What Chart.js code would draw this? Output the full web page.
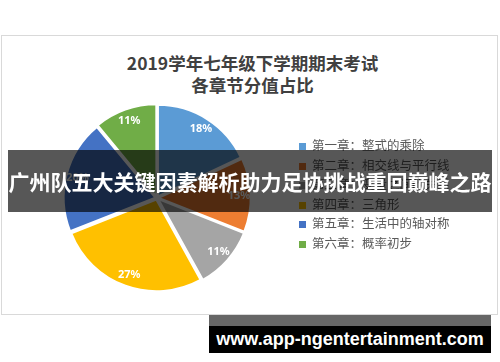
<!DOCTYPE html>
<html>
<head>
<meta charset="utf-8">
<script src="https://cdn.jsdelivr.net/npm/chart.js@4.4.0/dist/chart.umd.min.js"></script>
<style>
  html, body { margin: 0; padding: 0; background: #fff; }
  body { width: 500px; height: 362px; position: relative; overflow: hidden; font-family: "Noto Sans CJK SC", "Noto Sans", sans-serif; }
  #panel { position: absolute; left: 1px; top: 35px; width: 495px; height: 278px; border: 1px solid #d9d9d9; background: #fff; }
  #title { position: absolute; left: 0; top: 52px; width: 505px; text-align: center; font-weight: bold; font-size: 17.5px; line-height: 22px; color: #404040; }
  #chart { position: absolute; left: 0; top: 0; }
  #legend { position: absolute; left: 299px; top: 135px; font-size: 12.5px; color: #595959; }
  .item { height: 19.6px; line-height: 19.6px; white-space: nowrap; }
  .box { display: inline-block; width: 7px; height: 7px; margin-right: 6px; vertical-align: 0px; }
  #banner { position: absolute; left: 8px; top: 150px; width: 484px; height: 62px; background: rgba(0,0,0,0.66); color: #fff; font-weight: bold; font-size: 21px; line-height: 62px; text-align: center; white-space: nowrap; }
  #site-bar { position: absolute; left: 209px; top: 315px; width: 282px; height: 11px; background: #666; }
  #site { position: absolute; left: 209px; top: 326px; width: 282px; height: 27px; background: #000; color: #fff; font-family: "Liberation Sans", sans-serif; font-weight: bold; font-size: 18px; line-height: 27px; text-align: center; white-space: nowrap; }
</style>
</head>
<body>
<div id="panel"></div>
<div id="title">2019学年七年级下学期期末考试<br>各章节分值占比</div>
<canvas id="chart" width="500" height="362"></canvas>
<div id="legend"></div>
<div id="banner">广州队五大关键因素解析助力足协挑战重回巅峰之路</div>
<div id="site-bar"></div>
<div id="site">www.app-ngentertainment.com</div>
<script>
// chapters and their share of the exam score (%)
const chapters = ['第一章：整式的乘除', '第二章：相交线与平行线', '第三章：变量之间的关系', '第四章：三角形', '第五章：生活中的轴对称', '第六章：概率初步'];
const shares = [18, 13, 11, 27, 20, 11];
const colors = ['#5B9BD5', '#ED7D31', '#A5A5A5', '#FFC000', '#4472C4', '#70AD47'];

// legend as html
const legend = document.getElementById('legend');
chapters.forEach((name, i) => {
  const row = document.createElement('div');
  row.className = 'item';
  row.innerHTML = '<span class="box" style="background:' + colors[i] + '"></span>' + name;
  legend.appendChild(row);
});

// percent labels inside slices
const percentLabels = {
  id: 'percentLabels',
  afterDatasetsDraw(chart) {
    const ctx = chart.ctx;
    const meta = chart.getDatasetMeta(0);
    const data = chart.data.datasets[0].data;
    const total = data.reduce((a, b) => a + b, 0);
    ctx.save();
    ctx.fillStyle = '#fff';
    ctx.font = 'bold 11px "Noto Sans", sans-serif';
    ctx.textAlign = 'center';
    ctx.textBaseline = 'middle';
    meta.data.forEach((arc, i) => {
      const p = arc.getProps(['x', 'y', 'startAngle', 'endAngle', 'outerRadius'], true);
      const mid = (p.startAngle + p.endAngle) / 2;
      const r = p.outerRadius * 0.82 + 7;
      ctx.fillText(Math.round(data[i] / total * 100) + '%', p.x + Math.cos(mid) * r, p.y + Math.sin(mid) * r);
    });
    ctx.restore();
  }
};

new Chart(document.getElementById('chart'), {
  type: 'pie',
  data: {
    labels: chapters,
    datasets: [{
      data: shares,
      backgroundColor: colors,
      borderColor: '#fff',
      borderWidth: 2,
      offset: 7,
      hoverOffset: 7
    }]
  },
  options: {
    responsive: false,
    animation: false,
    layout: { padding: { left: 61, top: 102, right: 247, bottom: 68 } },
    plugins: {
      legend: { display: false },
      tooltip: { enabled: false }
    }
  },
  plugins: [percentLabels]
});
</script>
</body>
</html>
